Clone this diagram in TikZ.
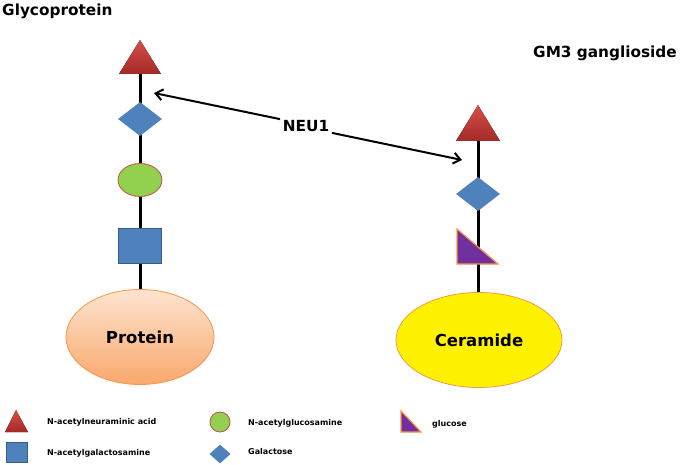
\documentclass[tikz,border=0pt]{standalone}
\usepackage{fontspec}
\setmainfont{DejaVu Sans}
\usetikzlibrary{arrows.meta,shapes.geometric}
\definecolor{sugarblue}{HTML}{4F81BD}
\definecolor{darkblue}{HTML}{385D8A}
\definecolor{redtop}{HTML}{D64E49}
\definecolor{redbot}{HTML}{A32A26}
\definecolor{glcgreen}{HTML}{92D050}
\definecolor{glcborder}{HTML}{C0504D}
\definecolor{purp}{HTML}{7030A0}
\definecolor{orangeb}{HTML}{F79646}
\definecolor{peachtop}{HTML}{FDE4D0}
\definecolor{peachbot}{HTML}{F9A86C}
\begin{document}
\begin{tikzpicture}[x=1pt,y=-1pt,
  chain/.style={line width=3pt,black},
  arr/.style={line width=2pt,-{Straight Barb[length=7pt,width=11pt,line width=2pt]}},
  title/.style={font=\bfseries\fontsize{15.3}{18}\selectfont,inner sep=0pt},
  legtext/.style={font=\bfseries\fontsize{8}{9}\selectfont,inner sep=0pt,anchor=west},
  galnac/.style={rectangle,fill=sugarblue,draw=darkblue,line width=0.8pt,minimum width=43pt,minimum height=35pt,inner sep=0pt},
  gal/.style={diamond,fill=sugarblue,draw=none,minimum width=44pt,minimum height=34pt,inner sep=0pt,shape aspect=1.3},
  glcnac/.style={ellipse,fill=glcgreen,draw=glcborder,line width=0.8pt,minimum width=44pt,minimum height=33pt,inner sep=0pt},
  core/.style={ellipse,draw=orangeb,line width=0.8pt,inner sep=0pt,font=\bfseries\fontsize{16.5}{19}\selectfont}
]
\useasboundingbox (0,0) rectangle (682,465);
% titles
\node[title,anchor=west] (gp) at (2,11) {Glycoprotein};
\node[title,anchor=west] (gm3) at (533,53) {GM3 ganglioside};
\node[title] (neu) at (306,126) {NEU1};

% left chain
\coordinate (ltri) at (140,74);
\node[core,top color=peachtop,bottom color=peachbot,minimum width=148pt,minimum height=95pt] (protein) at (140,337) {Protein};
\draw[chain] (ltri) -- (protein.north);
\fill[top color=redtop,bottom color=redbot] (119,74) -- (140,40) -- (161,74) -- cycle;
\node[gal] (lgal) at (140,119) {};
\node[glcnac] (lglcnac) at (140,180) {};
\node[galnac] (lgalnac) at (140,246) {};

% right chain
\coordinate (rtri) at (478,141);
\node[core,fill=yellow,minimum width=166pt,minimum height=95pt] (ceramide) at (479,340) {Ceramide};
\draw[chain] (rtri) -- (rtri |- ceramide.north);
\fill[top color=redtop,bottom color=redbot] (456,141) -- (478,105) -- (500,141) -- cycle;
\node[gal] (rgal) at (478,194) {};
\draw[fill=purp,draw=orangeb,line width=1.2pt] (457,229) -- (498,264) -- (457,264) -- cycle;

% arrows
\coordinate (lt) at (154,93);
\coordinate (rt) at (462,160);
\draw[arr] (neu.165) ++(-4,-1) -- (lt);
\draw[arr] (neu.-15) ++(4,1) -- (rt);

% legend
\fill[top color=redtop,bottom color=redbot] (5,432) -- (16,410) -- (28,432) -- cycle;
\node[legtext] (l1) at (47,422) {N-acetylneuraminic acid};
\node[rectangle,fill=sugarblue,draw=darkblue,line width=0.8pt,minimum width=21pt,minimum height=20pt,inner sep=0pt] (lsq) at (16.5,452) {};
\node[legtext] (l2) at (47,453) {N-acetylgalactosamine};
\node[circle,fill=glcgreen,draw=glcborder,line width=0.8pt,minimum size=20pt,inner sep=0pt] (lcir) at (220,422) {};
\node[legtext] (l3) at (248,423) {N-acetylglucosamine};
\node[diamond,fill=sugarblue,minimum width=21pt,minimum height=19pt,inner sep=0pt] (ldia) at (220,454) {};
\node[legtext] (l4) at (248,452) {Galactose};
\draw[fill=purp,draw=orangeb,line width=1.2pt] (401,411) -- (421,432) -- (401,432) -- cycle;
\node[legtext] (l5) at (432,424) {glucose};
\end{tikzpicture}
\end{document}
